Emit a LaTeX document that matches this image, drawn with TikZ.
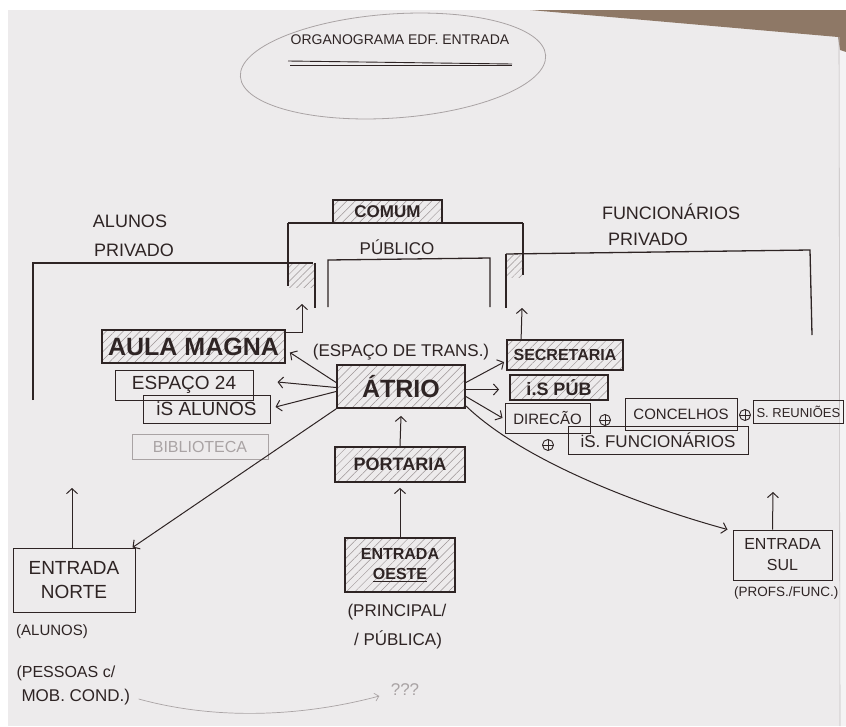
\documentclass[tikz,border=0pt]{standalone}
\usepackage{fontspec}
\setmainfont{Liberation Sans}
\usepackage{tikz}
\usetikzlibrary{arrows.meta,positioning,patterns.meta,calc}
\definecolor{ink}{HTML}{2E2424}
\definecolor{paper}{HTML}{EDEBEC}
\definecolor{pencil}{HTML}{A9A3A4}
\definecolor{hatchgrey}{HTML}{9C9495}
\definecolor{tabletop}{HTML}{8E7866}
\newcommand{\fsz}[1]{\fontsize{#1}{#1}\selectfont}

\begin{document}
\begin{tikzpicture}[
  x=1pt, y=-1pt,
  every node/.style={text=ink},
  hand/.style={font=\fsz{17}},
  hbox/.style={draw=ink, line width=1.8pt, align=center, inner sep=0pt,
               pattern={Lines[angle=45,distance=6pt,line width=.5pt]}, pattern color=hatchgrey},
  tbox/.style={draw=ink, line width=1pt, align=center, inner sep=0pt},
  plus/.style={circle, draw=ink, line width=.9pt, minimum size=11, inner sep=0pt,
               path picture={\draw[ink, line width=.9pt]
                 (path picture bounding box.north) -- (path picture bounding box.south)
                 (path picture bounding box.west) -- (path picture bounding box.east);}},
  wall/.style={draw=ink, line width=1.3pt},
  thickwall/.style={draw=ink, line width=2.6pt},
  arr/.style={draw=ink, line width=1pt, -{Straight Barb[length=5pt,width=11pt]}},
]
\useasboundingbox (0,0) rectangle (846,726);
\clip (0,0) rectangle (846,726);
% sheet of paper on the table
\fill[white] (0,0) rectangle (846,726);
\fill[paper] (8,10) rectangle (846,726);
\fill[paper!60!white] (840,37) rectangle (846,726);
\fill[tabletop] (530,10) -- (846,10) -- (846,52) -- (840,50) -- (838,37) -- cycle;
\draw[pencil!70, line width=.6pt] (839,37) -- (840,726);

% ---------- title ----------
\draw[pencil, line width=.8pt, rotate around={4:(393,66)}] (393,66) ellipse [x radius=153, y radius=52];
\node[font=\fsz{14}] (title) at (400,40) {ORGANOGRAMA EDF. ENTRADA};
\draw[ink, line width=.9pt] (288,61) -- (512,64);
\draw[ink, line width=.9pt] (290,65) -- (512,65);

% ---------- zones: private (students), public, private (staff) ----------
\node[hand, font=\fsz{18}] (lblAlunos) at (130,221) {ALUNOS};
\node[hand, font=\fsz{18}] (lblPrivA) at (134,250) {PRIVADO};
\node[hand, font=\fsz{18}] (lblFunc) at (671,212) {FUNCIONÁRIOS};
\node[hand, font=\fsz{18}] (lblPrivF) at (648,239) {PRIVADO};
\node[hand] (lblPublico) at (397,247) {PÚBLICO};
\node[hbox, minimum width=109, minimum height=23, font=\bfseries\fsz{17}] (comum) at (387.5,211.5) {COMUM};

\draw[wall] (33,400) -- (33,263) -- (313,263);
\draw[wall] (506,254) -- (810,250) -- (812,335);
\draw[wall] (288,223) -- (523,223);
\draw[thickwall] (288,223) -- (288,286);
\draw[thickwall] (523,223) -- (523,275);
\draw[wall] (328,307) -- (328,260) -- (490,258) -- (490,307);
% doors into the public zone
\fill[pattern={Lines[angle=45,distance=5pt,line width=.5pt]}, pattern color=hatchgrey] (289,264) rectangle (314,287);
\fill[pattern={Lines[angle=45,distance=5pt,line width=.5pt]}, pattern color=hatchgrey] (507,254) rectangle (522,277);
\draw[thickwall] (315,263) -- (315,308);
\draw[thickwall] (506,254) -- (506,308);
\coordinate (doorL) at (302,304);
\coordinate (doorR) at (522,308);

% ---------- students side ----------
\node[hbox, minimum width=183, minimum height=33, font=\bfseries\fsz{25}] (aula) at (193.5,346.5) {AULA MAGNA};
\node[tbox, minimum width=138, minimum height=30, font=\fsz{19}] (esp24) at (184,385) {ESPAÇO 24};
\node[tbox, minimum width=127, minimum height=28, font=\fsz{19}] (isal) at (206.5,409) {iS ALUNOS};
\node[tbox, draw=pencil, text=pencil, line width=.7pt, minimum width=136, minimum height=25, font=\fsz{16}] (biblio) at (200,447) {BIBLIOTECA};

% ---------- centre ----------
\node[hand] (lblTrans) at (401,352) {(ESPAÇO DE TRANS.)};
\node[hbox, minimum width=128, minimum height=43, font=\bfseries\fsz{25}] (atrio) at (401,386.5) {ÁTRIO};
\node[hbox, minimum width=130, minimum height=35, font=\bfseries\fsz{18}] (portaria) at (400,464.5) {PORTARIA};
\node[hbox, minimum width=110, minimum height=54, font=\bfseries\fontsize{16}{20}\selectfont] (eoeste) at (400,565) {ENTRADA\\\underline{OESTE}};
\node[hand] (lblPrinc) at (397,612) {(PRINCIPAL/};
\node[hand] (lblPubl) at (398,640) {/ PÚBLICA)};
\node[hand, text=pencil] (interrog) at (405,690) {???};

% ---------- staff side ----------
\node[hbox, minimum width=116, minimum height=30, font=\bfseries\fsz{16}] (secret) at (565,355) {SECRETARIA};
\node[hbox, minimum width=98, minimum height=25, font=\bfseries\fsz{18}] (ispub) at (559,387.5) {i.S PÚB};
\node[tbox, minimum width=85, minimum height=30, font=\fsz{15}] (direcao) at (547.5,418) {DIRECÃO};
\node[plus] (plusA) at (605,420) {};
\node[tbox, minimum width=112, minimum height=32, font=\fsz{15}] (conselhos) at (681,414) {CONCELHOS};
\node[plus] (plusB) at (745,415) {};
\node[tbox, anchor=west, inner xsep=3pt, minimum height=23, font=\fsz{13}] (reunioes) at (753,411.5) {S. REUNIÕES};
\node[plus] (plusC) at (548,445) {};
\node[tbox, minimum width=180, minimum height=28, font=\fsz{17}] (isfunc) at (658,440) {iS. FUNCIONÁRIOS};

% ---------- side entrances ----------
\node[tbox, minimum width=122, minimum height=64, font=\fontsize{19}{24}\selectfont] (enorte) at (74,580) {ENTRADA\\NORTE};
\node[hand, font=\fsz{15}] (lblAlNote) at (52,632) {(ALUNOS)};
\node[hand, anchor=west, font=\fsz{16}] (lblPess) at (13,673) {(PESSOAS c/};
\node[hand, anchor=west, font=\fsz{17}] (lblMob) at (18,697) {MOB. COND.)};
\node[tbox, minimum width=99, minimum height=50, font=\fontsize{16}{21}\selectfont] (esul) at (782.5,555) {ENTRADA\\SUL};
\node[hand, anchor=west, inner xsep=1pt, font=\fsz{13.5}] (lblProfs) at (733,593) {(PROFS./FUNC.)};
\coordinate (norteUp) at (72,488);
\coordinate (sulUp) at (773,492);

% ---------- connections ----------
\draw[arr] ($(aula.north east)+(0,3)$) -| (doorL);
\draw[arr] ($(secret.north west)+(15,0)$) -- (doorR);
\draw[arr] ($(atrio.west)+(0,-4)$) -- ($(aula.east)+(4,6)$);
\draw[arr] ($(atrio.west)+(0,1)$) -- ($(esp24.east)+(24,-3)$);
\draw[arr] ($(atrio.west)+(0,5)$) -- ($(isal.east)+(5,-2)$);
\draw[arr] (atrio.south west) -- ($(enorte.north east)+(-3,0)$);
\draw[arr] ($(atrio.east)+(0,-4)$) -- ($(secret.west)+(-2,7)$);
\draw[arr] ($(atrio.east)+(0,3)$) -- ($(ispub.west)+(-10,2)$);
\draw[arr] ($(atrio.east)+(0,10)$) -- ($(direcao.west)+(-2,0)$);
\draw[arr] ($(atrio.south east)+(0,-3)$) .. controls (522,460) and (638,505) .. ($(esul.north west)+(-5,0)$);
\draw[arr] (portaria.north) -- ($(atrio.south)+(0,7)$);
\draw[arr] (eoeste.north) -- ($(portaria.south)+(0,5)$);
\draw[arr] ($(enorte.north)+(-2,0)$) -- (norteUp);
\draw[arr] ($(esul.north)+(-10,0)$) -- (sulUp);
\draw[draw=pencil, line width=.7pt, -{Straight Barb[length=4pt,width=8pt]}] ($(lblMob.east)+(5,2)$) .. controls (230,724) and (320,712) .. ($(interrog.west)+(-8,6)$);
\end{tikzpicture}
\end{document}
